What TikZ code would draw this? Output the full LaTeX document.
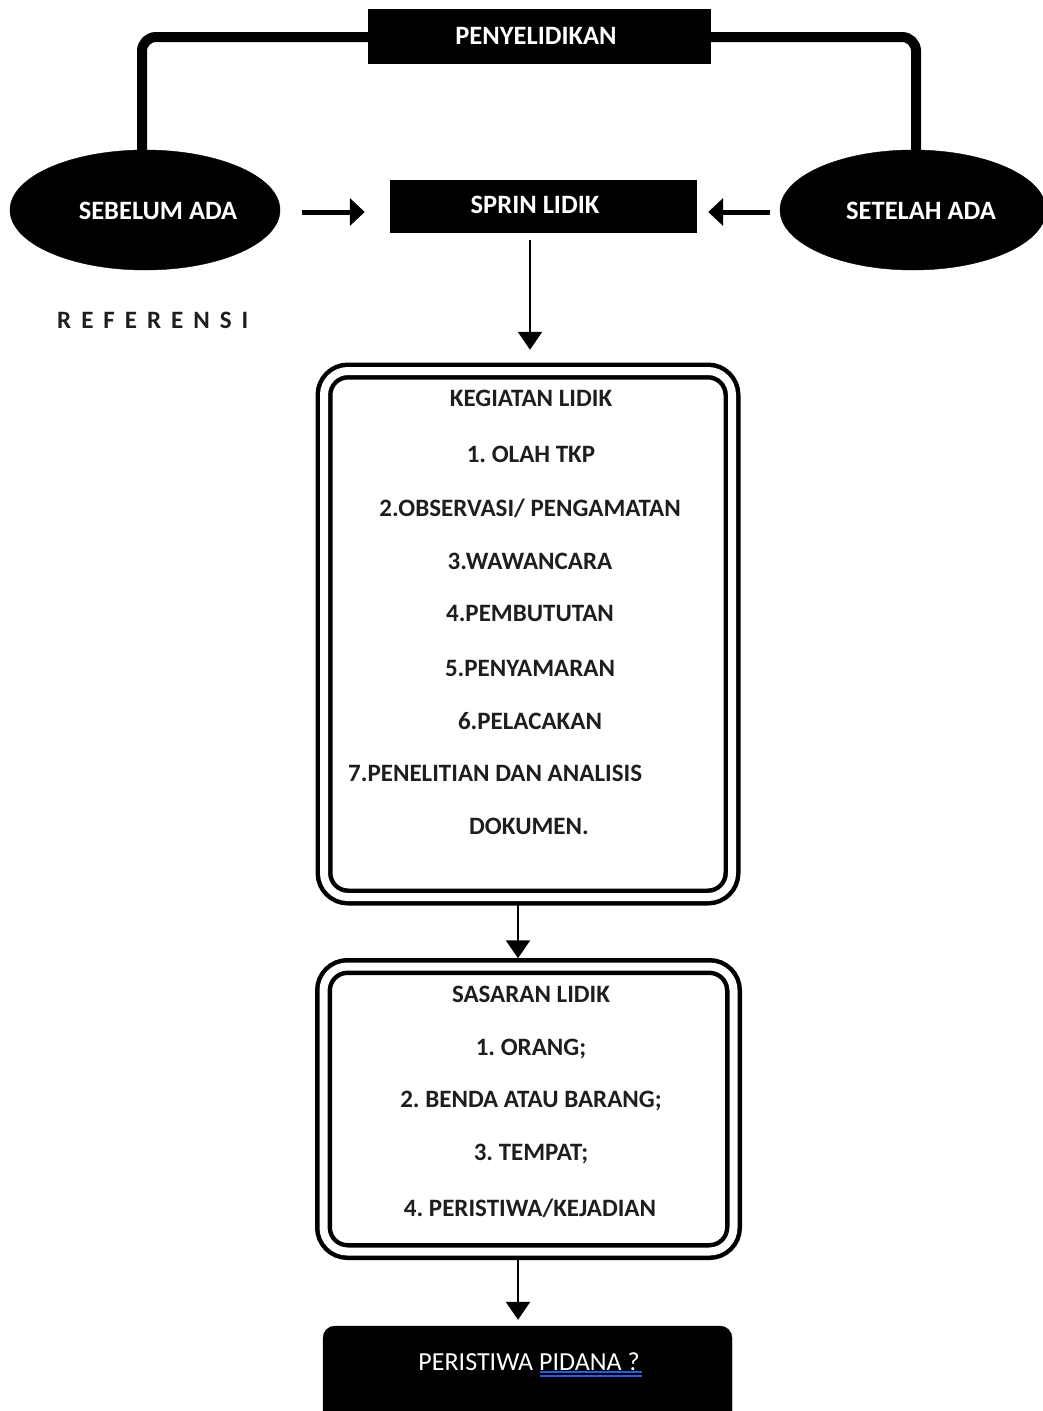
\documentclass[tikz,border=0pt]{standalone}
\usepackage{fontspec}
\setmainfont{Carlito}
\usetikzlibrary{shapes.geometric,arrows.meta,calc}
\definecolor{txt}{HTML}{1E1E1E}
\definecolor{ulblue}{HTML}{2B5BD6}
\frenchspacing
\tikzset{
  blackbox/.style={fill=black,draw=black,inner sep=0pt,text=white},
  titletxt/.style={text=white,inner sep=0pt,font=\bfseries\fontsize{26.5}{28}\selectfont},
  blobell/.style={ellipse,fill=black,draw=black,inner sep=0pt},
  dblbox/.style={draw=black,line width=4.5pt,double=white,double distance=8pt,rounded corners=24pt,inner sep=0pt},
  itemtxt/.style={text=txt,font=\bfseries\fontsize{25}{28}\selectfont,inner sep=0pt,anchor=center},
  bigarrow/.style={line width=5pt,-{Triangle[width=27pt,length=15pt]}},
  downarrow/.style={line width=2.5pt,-{Triangle[width=24pt,length=18pt]}},
  linkline/.style={line width=10pt,rounded corners=14pt},
}
\begin{document}
\begin{tikzpicture}[x=1pt,y=-1pt]
\useasboundingbox (0,0) rectangle (1043,1411);
\begin{scope}
\clip (0,0) rectangle (1043,1411);
% top
\node[blackbox,minimum width=342pt,minimum height=54pt] (pen) at (539,36) {};
\node[titletxt] (pent) at (536,36) {PENYELIDIKAN};
\node[blobell,minimum width=270pt,minimum height=120pt] (seb) at (145,210) {};
\node[titletxt] (sebt) at (158,211) {SEBELUM ADA};
\node[blobell,minimum width=266pt,minimum height=120pt] (set) at (913,210) {};
\node[titletxt] (sett) at (921,211) {SETELAH ADA};
\node[blackbox,minimum width=306pt,minimum height=52pt] (spr) at (543,206) {};
\node[titletxt] (sprt) at (535,205) {SPRIN LIDIK};
\coordinate (lc) at (142,37);
\coordinate (rc) at (916,37);
\draw[linkline] (pen.west |- lc) -- (lc) -- (lc |- seb.north);
\draw[linkline] (pen.east |- rc) -- (rc) -- (rc |- set.north);
\draw[bigarrow,shorten <=22pt,shorten >=25pt] (seb.east |- 0,212) -- (spr.west |- 0,212);
\draw[bigarrow,shorten <=10pt,shorten >=12pt] (set.west |- 0,212) -- (spr.east |- 0,212);
\node[text=txt,font=\bfseries\fontsize{25}{28}\selectfont\addfontfeature{LetterSpace=40},anchor=west,inner sep=0pt] (ref) at (57,320) {REFERENSI};
% box 1
\node[dblbox,minimum width=408pt,minimum height=526pt] (kg) at (528,634) {};
\node[itemtxt] (k0) at (531,398) {KEGIATAN LIDIK};
\node[itemtxt] (k1) at (531,454) {1. OLAH TKP};
\node[itemtxt] (k2) at (530,508) {2.OBSERVASI/ PENGAMATAN};
\node[itemtxt] (k3) at (530,561) {3.WAWANCARA};
\node[itemtxt] (k4) at (530,613) {4.PEMBUTUTAN};
\node[itemtxt] (k5) at (530,668) {5.PENYAMARAN};
\node[itemtxt] (k6) at (530,721) {6.PELACAKAN};
\node[itemtxt,anchor=west] (k7) at (348,773) {7.PENELITIAN DAN ANALISIS};
\node[itemtxt] (k8) at (529,826) {DOKUMEN.};
% box 2
\node[dblbox,minimum width=410pt,minimum height=285pt] (sa) at (528.5,1109) {};
\node[itemtxt] (s0) at (531,994) {SASARAN LIDIK};
\node[itemtxt] (s1) at (531,1049) {1. ORANG;};
\node[itemtxt] (s2) at (531,1101) {2. BENDA ATAU BARANG;};
\node[itemtxt] (s3) at (531,1154) {3. TEMPAT;};
\node[itemtxt] (s4) at (530,1208) {4. PERISTIWA/KEJADIAN};
% bottom
\node[fill=black,draw=black,rounded corners=12pt,minimum width=409pt,minimum height=120pt,inner sep=0pt] (pp) at (527.5,1386) {};
\node[text=white,font=\fontsize{26}{28}\selectfont,inner sep=0pt] (ppt) at (529,1362) {PERISTIWA PIDANA ?};
\coordinate (u1) at (540,1372);
\coordinate (u2) at (642,1372);
\draw[ulblue,line width=1.5pt] (u1) -- (u2);
\draw[ulblue,line width=1.5pt] ($(u1)+(0,4)$) -- ($(u2)+(0,4)$);
% vertical arrows
\draw[downarrow,shorten <=8pt,shorten >=19pt] (spr.south -| 530,0) -- (kg.north -| 530,0);
\draw[downarrow,shorten <=6pt,shorten >=6pt] (kg.south -| 518,0) -- (sa.north -| 518,0);
\draw[downarrow,shorten <=6pt,shorten >=6pt] (sa.south -| 518,0) -- (pp.north -| 518,0);
\end{scope}
\end{tikzpicture}
\end{document}
